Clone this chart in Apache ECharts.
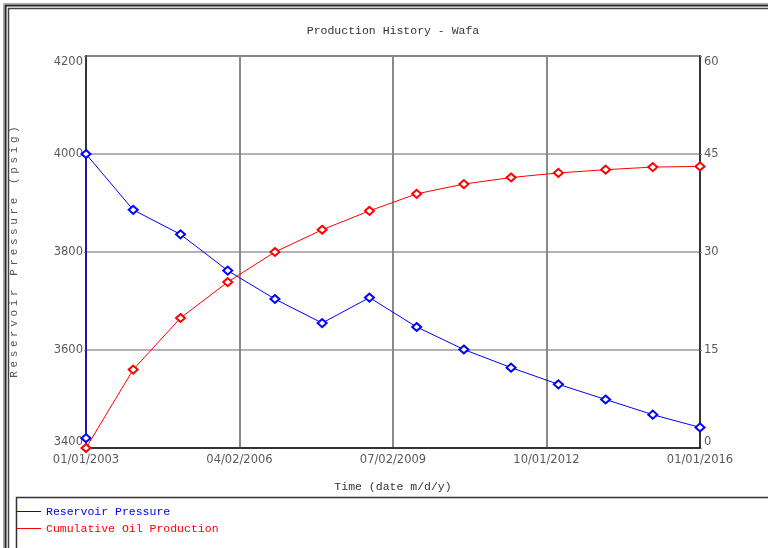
<!DOCTYPE html>
<html>
<head>
<meta charset="utf-8">
<script src="https://cdn.jsdelivr.net/npm/echarts@6/dist/echarts.min.js"></script>
<style>
html,body{margin:0;padding:0;background:#fff;}
#chart{width:768px;height:548px;}
</style>
</head>
<body>
<div id="chart"></div>
<script>
// ---- data ----
const pressureDates = ['01/01/2003','01/01/2003','01/01/2004','01/01/2005','01/01/2006','01/01/2007','01/01/2008','01/01/2009','01/01/2010','01/01/2011','01/01/2012','01/01/2013','01/01/2014','01/01/2015','01/01/2016'];
const pressureValues = [3420, 4000, 3886, 3836, 3762, 3704, 3655, 3707, 3647, 3601, 3564, 3530, 3499, 3468, 3442];
const oilDates = ['01/01/2003','01/01/2004','01/01/2005','01/01/2006','01/01/2007','01/01/2008','01/01/2009','01/01/2010','01/01/2011','01/01/2012','01/01/2013','01/01/2014','01/01/2015','01/01/2016'];
const oilValues = [0, 12.0, 19.9, 25.4, 30.0, 33.4, 36.3, 38.9, 40.4, 41.4, 42.1, 42.6, 43.0, 43.1];
const xStartDate = '01/01/2003';
const xEndDate = '01/01/2016';
const xTickCount = 4;
const leftAxis = {min: 3400, max: 4200, interval: 200};
const rightAxis = {min: 0, max: 60, interval: 15};
const seriesNames = ['Reservoir Pressure', 'Cumulative Oil Production'];
const seriesColors = ['#0000ff', '#ff0000'];
const titleText = 'Production History - Wafa';
const xAxisTitle = 'Time (date m/d/y)';
const yAxisTitle = 'Reservoir Pressure (psig)';

// ---- helpers ----
const DAY = 86400000;
function parseMDY(s){ const p = s.split('/'); return Date.UTC(+p[2], +p[0]-1, +p[1]); }
const origin = parseMDY(xStartDate);
function toDays(s){ return Math.round((parseMDY(s) - origin) / DAY); }
function fmtDays(d){
  const dt = new Date(origin + Math.round(d) * DAY);
  const mm = String(dt.getUTCMonth()+1).padStart(2,'0');
  const dd = String(dt.getUTCDate()).padStart(2,'0');
  return mm + '/' + dd + '/' + dt.getUTCFullYear();
}
const xMax = toDays(xEndDate);
const xInterval = xMax / xTickCount;
// letter-spaced y-axis title via rich-text spacer tokens
const spacedTitle = yAxisTitle.split('').map(c => '{c|' + c + '}').join('{s| }');

const chart = echarts.init(document.getElementById('chart'), null, {renderer: 'canvas'});
const tickFont = {fontFamily: 'DejaVu Sans', fontSize: 11.5, color: '#5a5a5a'};
const mono = 'Liberation Mono';

chart.setOption({
  animation: false,
  backgroundColor: '#fff',
  title: {
    text: titleText,
    left: 393, top: 25, padding: 0,
    textAlign: 'center',
    textStyle: {fontFamily: mono, fontSize: 11.5, fontWeight: 'normal', color: '#333'}
  },
  grid: {left: 86, right: 68, top: 56, bottom: 100, show: true, borderColor: '#1a1a1a', borderWidth: 1.5, containLabel: false},
  legend: {
    orient: 'vertical', left: 17, top: 505, padding: 0, itemWidth: 24, itemHeight: 13, itemGap: 4,
    textStyle: {fontFamily: mono, fontSize: 11.5, lineHeight: 13},
    data: seriesNames.map((n, i) => ({
      name: n,
      icon: 'path://M0,6H24V7H0Z',
      itemStyle: {color: seriesColors[i], borderWidth: 0},
      textStyle: {color: seriesColors[i]}
    }))
  },
  xAxis: {
    type: 'value', min: 0, max: xMax, interval: xInterval,
    name: xAxisTitle, nameLocation: 'middle', nameGap: 33,
    nameTextStyle: {fontFamily: mono, fontSize: 11.5, color: '#333'},
    axisLine: {show: true, lineStyle: {color: '#1a1a1a', width: 1.5}},
    axisTick: {show: false},
    axisLabel: Object.assign({margin: 6, formatter: fmtDays}, tickFont),
    splitLine: {show: true, lineStyle: {color: '#8a8a8a', width: 2}}
  },
  yAxis: [
    {
      type: 'value', min: leftAxis.min, max: leftAxis.max, interval: leftAxis.interval,
      name: spacedTitle, nameLocation: 'middle', nameGap: 66, nameRotate: 90,
      nameTextStyle: {fontFamily: mono, fontSize: 11, color: '#555', rich: {
        c: {fontFamily: mono, fontSize: 11, color: '#555'},
        s: {fontFamily: mono, fontSize: 6}
      }},
      axisLine: {show: true, lineStyle: {color: '#1a1a1a', width: 1.5}},
      axisTick: {show: true, length: 2, lineStyle: {color: '#888'}},
      axisLabel: Object.assign({margin: 3, formatter: v => String(v), verticalAlignMinLabel: 'bottom', verticalAlignMaxLabel: 'top'}, tickFont),
      splitLine: {show: true, lineStyle: {color: '#999', width: 1.5}}
    },
    {
      type: 'value', min: rightAxis.min, max: rightAxis.max, interval: rightAxis.interval, position: 'right',
      axisLine: {show: true, lineStyle: {color: '#1a1a1a', width: 1.5}},
      axisTick: {show: true, length: 2, lineStyle: {color: '#888'}},
      axisLabel: Object.assign({margin: 4, formatter: v => String(v), verticalAlignMinLabel: 'bottom', verticalAlignMaxLabel: 'top'}, tickFont),
      splitLine: {show: false}
    }
  ],
  series: [
    {
      name: seriesNames[0], type: 'line', yAxisIndex: 0,
      data: pressureDates.map((d, i) => [toDays(d), pressureValues[i]]),
      color: seriesColors[0],
      symbol: 'emptyDiamond', symbolSize: [9, 8],
      lineStyle: {color: seriesColors[0], width: 1},
      itemStyle: {color: seriesColors[0], borderWidth: 1},
      emphasis: {disabled: true}, clip: false
    },
    {
      name: seriesNames[1], type: 'line', yAxisIndex: 1,
      data: oilDates.map((d, i) => [toDays(d), oilValues[i]]),
      color: seriesColors[1],
      symbol: 'emptyDiamond', symbolSize: [9, 8],
      lineStyle: {color: seriesColors[1], width: 1},
      itemStyle: {color: seriesColors[1], borderWidth: 1},
      emphasis: {disabled: true}, clip: false
    }
  ],
  graphic: [
    {type: 'rect', silent: true, z: -1, shape: {x: 3.5, y: 3.5, width: 900, height: 700}, style: {fill: null, stroke: '#aaa', lineWidth: 1}},
    {type: 'rect', silent: true, z: -1, shape: {x: 5.5, y: 5.5, width: 900, height: 700}, style: {fill: null, stroke: '#222', lineWidth: 2}},
    {type: 'rect', silent: true, z: -1, shape: {x: 8.5, y: 8.5, width: 900, height: 700}, style: {fill: null, stroke: '#444', lineWidth: 1.5}},
    {type: 'rect', silent: true, z: -1, shape: {x: 16.5, y: 497.5, width: 900, height: 200}, style: {fill: null, stroke: '#333', lineWidth: 1.5}}
  ]
});
</script>
</body>
</html>
